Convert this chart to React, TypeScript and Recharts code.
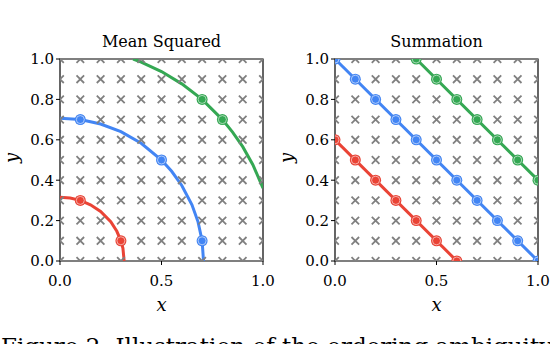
import React from "react";
import {
  ComposedChart,
  Scatter,
  Line,
  XAxis,
  YAxis,
  ReferenceArea,
} from "recharts";

// grid of candidate points (gray crosses)
const gridSteps = [0, 0.1, 0.2, 0.3, 0.4, 0.5, 0.6, 0.7, 0.8, 0.9, 1.0];
const xTicks = [0, 0.5, 1.0];
const yTicks = [0, 0.2, 0.4, 0.6, 0.8, 1.0];

const RED = "#ea4335";
const BLUE = "#4285f4";
const GREEN = "#34a853";

// Mean Squared: arcs
const msRedCurve = [
  { x: 0, y: 0.316 }, { x: 0.05, y: 0.312 }, { x: 0.1, y: 0.3 },
  { x: 0.15, y: 0.278 }, { x: 0.2, y: 0.245 }, { x: 0.25, y: 0.194 },
  { x: 0.28, y: 0.147 }, { x: 0.3, y: 0.1 }, { x: 0.31, y: 0.063 },
  { x: 0.316, y: 0 },
];
const msBlueCurve = [
  { x: 0, y: 0.707 }, { x: 0.1, y: 0.7 }, { x: 0.2, y: 0.678 },
  { x: 0.3, y: 0.64 }, { x: 0.4, y: 0.583 }, { x: 0.5, y: 0.5 },
  { x: 0.55, y: 0.444 }, { x: 0.6, y: 0.374 }, { x: 0.65, y: 0.278 },
  { x: 0.68, y: 0.194 }, { x: 0.7, y: 0.1 }, { x: 0.707, y: 0 },
];
const msGreenCurve = [
  { x: 0.36, y: 1.0 }, { x: 0.4, y: 0.985 }, { x: 0.5, y: 0.938 },
  { x: 0.6, y: 0.877 }, { x: 0.7, y: 0.8 }, { x: 0.8, y: 0.7 },
  { x: 0.85, y: 0.638 }, { x: 0.9, y: 0.566 }, { x: 0.95, y: 0.477 },
  { x: 1.0, y: 0.361 },
];
const msRedPts = [{ x: 0.1, y: 0.3 }, { x: 0.3, y: 0.1 }];
const msBluePts = [{ x: 0.1, y: 0.7 }, { x: 0.5, y: 0.5 }, { x: 0.7, y: 0.1 }];
const msGreenPts = [{ x: 0.7, y: 0.8 }, { x: 0.8, y: 0.7 }];

// Summation: straight lines
const sumRedCurve = [{ x: 0, y: 0.6 }, { x: 0.6, y: 0 }];
const sumBlueCurve = [{ x: 0, y: 1.0 }, { x: 1.0, y: 0 }];
const sumGreenCurve = [{ x: 0.4, y: 1.0 }, { x: 1.0, y: 0.4 }];
const sumRedPts = [
  { x: 0, y: 0.6 }, { x: 0.1, y: 0.5 }, { x: 0.2, y: 0.4 }, { x: 0.3, y: 0.3 },
  { x: 0.4, y: 0.2 }, { x: 0.5, y: 0.1 }, { x: 0.6, y: 0 },
];
const sumBluePts = [
  { x: 0, y: 1.0 }, { x: 0.1, y: 0.9 }, { x: 0.2, y: 0.8 }, { x: 0.3, y: 0.7 },
  { x: 0.4, y: 0.6 }, { x: 0.5, y: 0.5 }, { x: 0.6, y: 0.4 }, { x: 0.7, y: 0.3 },
  { x: 0.8, y: 0.2 }, { x: 0.9, y: 0.1 }, { x: 1.0, y: 0 },
];
const sumGreenPts = [
  { x: 0.4, y: 1.0 }, { x: 0.5, y: 0.9 }, { x: 0.6, y: 0.8 }, { x: 0.7, y: 0.7 },
  { x: 0.8, y: 0.6 }, { x: 0.9, y: 0.5 }, { x: 1.0, y: 0.4 },
];

const gridPts = gridSteps.flatMap((x) => gridSteps.map((y) => ({ x, y })));

const FONT = "DejaVu Serif";

const Cross = (props: any) => {
  const { cx, cy } = props;
  const s = 3.8;
  return (
    <path
      d={`M${cx - s},${cy - s}L${cx + s},${cy + s}M${cx - s},${cy + s}L${cx + s},${cy - s}`}
      stroke="#808080"
      strokeWidth={1.8}
    />
  );
};

const dot = (color: string) => (props: any) => {
  const { cx, cy } = props;
  return (
    <g>
      <circle cx={cx} cy={cy} r={5.5} fill={color} />
      <circle cx={cx} cy={cy} r={4} fill="none" stroke="#fff" strokeOpacity={0.55} strokeWidth={1} />
    </g>
  );
};

interface PanelProps {
  title: string;
  left: number;
  curves: { data: { x: number; y: number }[]; color: string }[];
  points: { data: { x: number; y: number }[]; color: string }[];
}

function Panel({ title, left, curves, points }: PanelProps) {
  return (
    <div style={{ position: "absolute", left, top: 0, width: 275, height: 300 }}>
      <div
        style={{
          position: "absolute",
          left: 60,
          width: 203,
          top: 32,
          textAlign: "center",
          fontFamily: FONT,
          fontSize: 16,
          lineHeight: "20px",
        }}
      >
        {title}
      </div>
      <ComposedChart
        width={275}
        height={300}
        margin={{ top: 59, right: 12, bottom: 9, left: 20 }}
      >
        <XAxis
          type="number"
          dataKey="x"
          domain={[0, 1]}
          allowDataOverflow
          ticks={xTicks}
          tickFormatter={(v: number) => v.toFixed(1)}
          axisLine={false}
          tickLine={{ stroke: "#000", strokeWidth: 1 }}
          tickSize={4}
          tickMargin={10}
          tick={{ fill: "#000", fontFamily: FONT, fontSize: 15 }}
          height={30}
        />
        <YAxis
          type="number"
          dataKey="y"
          domain={[0, 1]}
          allowDataOverflow
          ticks={yTicks}
          tickFormatter={(v: number) => v.toFixed(1)}
          axisLine={false}
          tickLine={{ stroke: "#000", strokeWidth: 1 }}
          tickSize={4}
          tick={{ fill: "#000", fontFamily: FONT, fontSize: 15 }}
          width={40}
        />
        <Scatter data={gridPts} shape={Cross} isAnimationActive={false} />
        {curves.map((c, i) => (
          <Line
            key={"c" + i}
            data={c.data}
            dataKey="y"
            type="linear"
            stroke={c.color}
            strokeWidth={3}
            dot={false}
            activeDot={false}
            isAnimationActive={false}
          />
        ))}
        {points.map((p, i) => (
          <Scatter key={"p" + i} data={p.data} shape={dot(p.color)} isAnimationActive={false} />
        ))}
        <ReferenceArea x1={0} x2={1} y1={0} y2={1} fill="none" stroke="#000" strokeWidth={1.2} fillOpacity={0} />
      </ComposedChart>
      <div
        style={{
          position: "absolute",
          left: 60,
          width: 203,
          top: 295,
          textAlign: "center",
          fontFamily: FONT,
          fontStyle: "italic",
          fontSize: 18,
          lineHeight: "20px",
        }}
      >
        x
      </div>
      <div
        style={{
          position: "absolute",
          left: 2,
          top: 148,
          width: 20,
          height: 20,
          textAlign: "center",
          fontFamily: FONT,
          fontStyle: "italic",
          fontSize: 18,
          lineHeight: "20px",
          transform: "rotate(-90deg)",
        }}
      >
        y
      </div>
    </div>
  );
}

export default function App() {
  return (
    <div
      style={{
        position: "absolute",
        left: 0,
        top: 0,
        width: 550,
        height: 344,
        overflow: "hidden",
        background: "#fff",
      }}
    >
      <Panel
        title="Mean Squared"
        left={0}
        curves={[
          { data: msRedCurve, color: RED },
          { data: msBlueCurve, color: BLUE },
          { data: msGreenCurve, color: GREEN },
        ]}
        points={[
          { data: msRedPts, color: RED },
          { data: msBluePts, color: BLUE },
          { data: msGreenPts, color: GREEN },
        ]}
      />
      <Panel
        title="Summation"
        left={275}
        curves={[
          { data: sumRedCurve, color: RED },
          { data: sumBlueCurve, color: BLUE },
          { data: sumGreenCurve, color: GREEN },
        ]}
        points={[
          { data: sumRedPts, color: RED },
          { data: sumBluePts, color: BLUE },
          { data: sumGreenPts, color: GREEN },
        ]}
      />
      <div
        style={{
          position: "absolute",
          left: 1,
          top: 332,
          whiteSpace: "nowrap",
          fontFamily: FONT,
          fontSize: 23,
          lineHeight: "28px",
        }}
      >
        Figure 2: Illustration of the ordering ambiguity
      </div>
    </div>
  );
}
